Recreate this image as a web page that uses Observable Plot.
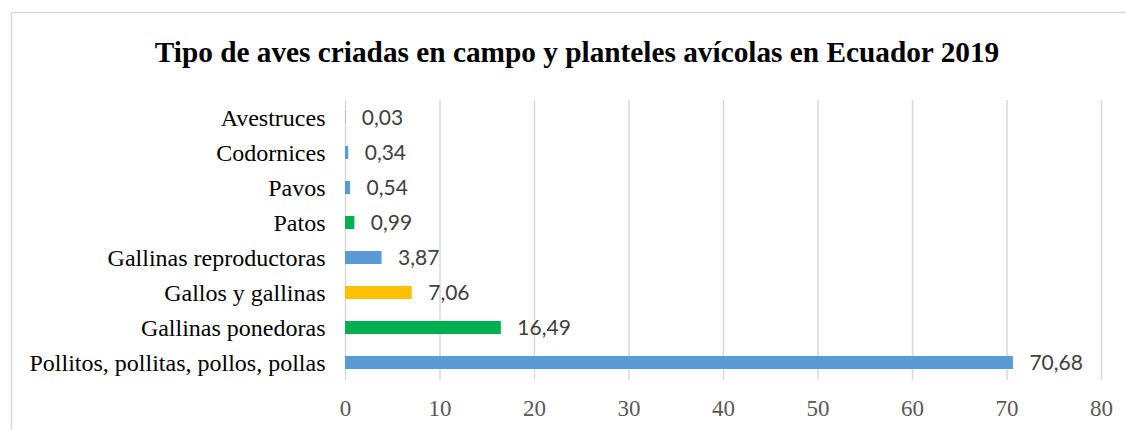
<!DOCTYPE html>
<html>
<head>
<meta charset="utf-8">
<script src="https://cdn.jsdelivr.net/npm/d3@7"></script>
<script src="https://cdn.jsdelivr.net/npm/@observablehq/plot@0.6"></script>
<style>
  html, body { margin: 0; padding: 0; background: #fff; }
  #chart { width: 1126px; height: 430px; overflow: hidden; }
</style>
</head>
<body>
<div id="chart"></div>
<script>
const title = "Tipo de aves criadas en campo y planteles avícolas en Ecuador 2019";
const categories = [
  "Avestruces",
  "Codornices",
  "Pavos",
  "Patos",
  "Gallinas reproductoras",
  "Gallos y gallinas",
  "Gallinas ponedoras",
  "Pollitos, pollitas, pollos, pollas"
];
const values = [0.03, 0.34, 0.54, 0.99, 3.87, 7.06, 16.49, 70.68];
const colors = ["#5B9BD5", "#5B9BD5", "#5B9BD5", "#00B050", "#5B9BD5", "#FFC000", "#00B050", "#5B9BD5"];
const xTicks = [0, 10, 20, 30, 40, 50, 60, 70, 80];

const data = categories.map((c, i) => ({category: c, value: values[i], color: colors[i]}));
const fmt = v => v.toFixed(2).replace(".", ",");
const serif = "'Liberation Serif', 'Times New Roman', serif";

const plot = Plot.plot({
  width: 1126,
  height: 430,
  marginLeft: 345,
  marginRight: 25,
  marginTop: 100,
  marginBottom: 50,
  style: {background: "#fff", overflow: "visible", fontFamily: serif},
  x: {domain: [0, 80]},
  y: {domain: categories, paddingInner: 0.64, paddingOuter: 0.32},
  color: {type: "identity"},
  marks: [
    Plot.gridX(xTicks, {stroke: "#d9d9d9", strokeOpacity: 1, strokeWidth: 1.5}),
    Plot.barX(data, {x: "value", y: "category", fill: "color"}),
    Plot.text(data, {
      x: "value", y: "category", text: d => fmt(d.value),
      textAnchor: "start", dx: 16, fill: "#404040",
      fontFamily: "Lato, 'Open Sans', sans-serif", fontSize: 21
    }),
    Plot.axisX(xTicks, {
      tickSize: 0, tickPadding: 19, label: null,
      fontFamily: serif, fontSize: 23, fill: "#595959"
    }),
    Plot.axisY({
      tickSize: 0, tickPadding: 20, label: null,
      fontFamily: serif, fontSize: 24, fill: "#000"
    })
  ]
});

const svg = d3.select(plot);
svg.insert("rect", ":first-child")
  .attr("x", 11.5).attr("y", 12.5)
  .attr("width", 1300).attr("height", 600)
  .attr("fill", "none").attr("stroke", "#d9d9d9").attr("stroke-width", 1.5);
svg.append("text")
  .attr("x", 577).attr("y", 62)
  .attr("text-anchor", "middle")
  .attr("font-family", serif)
  .attr("font-weight", "bold")
  .attr("font-size", 29.3)
  .attr("fill", "#000")
  .text(title);

document.getElementById("chart").appendChild(plot);
</script>
</body>
</html>
